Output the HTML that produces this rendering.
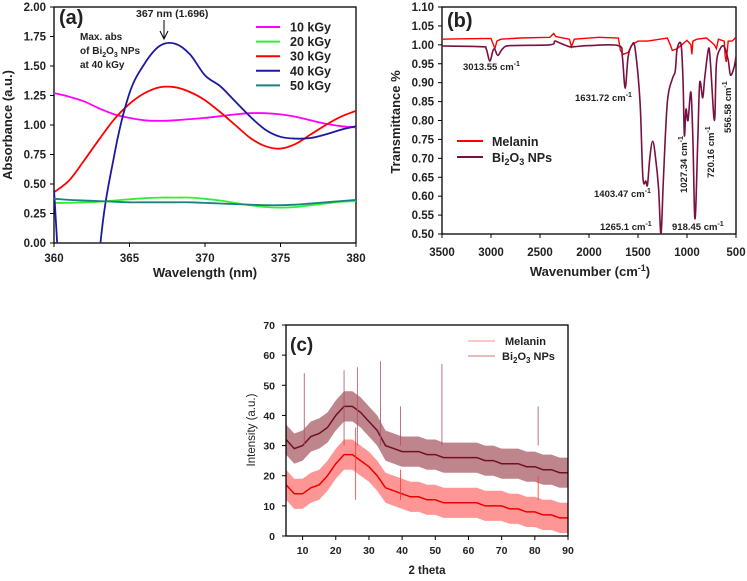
<!DOCTYPE html>
<html><head><meta charset="utf-8"><style>
body{margin:0;background:#fff;font-family:"Liberation Sans",sans-serif;}
svg text{font-family:"Liberation Sans",sans-serif;font-weight:bold;fill:#222;}
</style></head><body>
<svg id="s" width="747" height="576" viewBox="0 0 747 576">
<defs>
<clipPath id="ca"><rect x="54" y="7" width="302" height="236"/></clipPath>
<clipPath id="cb"><rect x="442" y="7" width="294" height="227"/></clipPath>
<clipPath id="cc"><rect x="286" y="325" width="282" height="211"/></clipPath>
</defs>
</svg>
<script>
// Panel (a) data
const aX=[360,361,362,363,364,365,366,367,368,369,370,371,372,373,374,375,376,377,378,379,380];
const a10=[1.27,1.24,1.20,1.14,1.09,1.06,1.04,1.035,1.04,1.05,1.06,1.075,1.09,1.10,1.10,1.09,1.07,1.04,1.01,0.99,0.98];
const a20=[0.34,0.34,0.345,0.35,0.36,0.37,0.38,0.385,0.385,0.385,0.375,0.36,0.34,0.32,0.305,0.30,0.305,0.32,0.335,0.35,0.355];
const a30=[0.43,0.53,0.70,0.88,1.05,1.18,1.27,1.32,1.32,1.28,1.21,1.11,1.00,0.89,0.82,0.80,0.84,0.92,1.00,1.07,1.12];
const a40=[0.45,-1.5,-2.0,-0.1,0.75,1.27,1.52,1.67,1.69,1.60,1.42,1.33,1.20,1.07,0.96,0.90,0.885,0.89,0.92,0.96,0.99];
const a50=[0.375,0.365,0.36,0.355,0.35,0.345,0.345,0.345,0.345,0.345,0.34,0.335,0.33,0.325,0.32,0.32,0.325,0.335,0.345,0.355,0.365];
const aYTicks=["0.00","0.25","0.50","0.75","1.00","1.25","1.50","1.75","2.00"];
const aXTicks=[360,365,370,375,380];
// Panel (b) data
const bBiX=[3500,3100,3050,3013,2980,2960,2930,2880,2800,2400,2350,2300,2200,2150,2000,1700,1660,1631,1600,1560,1530,1480,1450,1420,1403,1380,1350,1320,1290,1265,1240,1200,1150,1120,1100,1060,1040,1027,1010,990,960,940,918,890,870,840,820,780,760,720,700,660,620,580,556,520,500];
const bBiY=[0.997,0.995,0.99,0.957,0.985,0.988,0.972,0.99,0.998,1.0,1.01,1.005,0.995,0.995,0.998,0.998,0.97,0.885,0.97,1.0,0.99,0.85,0.65,0.64,0.63,0.70,0.745,0.70,0.62,0.50,0.65,0.85,0.91,0.93,0.99,1.0,0.90,0.76,0.83,0.80,0.875,0.75,0.54,0.75,0.90,0.86,0.91,0.99,0.95,0.80,0.95,0.99,0.995,0.96,0.92,0.94,0.97];
const bMelX=[3500,3300,3000,2960,2940,2900,2700,2400,2360,2340,2300,2200,2180,2150,1900,1700,1680,1650,1600,1560,1500,1400,1200,1170,1150,1100,1000,960,950,940,900,800,720,700,680,620,610,600,580,540,500];
const bMelY=[1.015,1.016,1.017,0.99,1.01,1.015,1.018,1.02,1.03,1.022,1.02,1.015,0.995,1.015,1.02,1.018,0.985,0.975,0.98,1.0,1.01,1.01,1.018,1.0,0.985,0.99,1.012,1.0,0.975,1.01,1.015,1.018,1.0,0.99,1.015,1.01,0.97,0.955,1.01,1.01,1.02];
const bYTicks=["0.50","0.55","0.60","0.65","0.70","0.75","0.80","0.85","0.90","0.95","1.00","1.05","1.10"];
const bXTicks=[3500,3000,2500,2000,1500,1000,500];
// Panel (c) data
const cX=[5,7.5,10,12.5,15,17.5,20,22.5,25,27.5,30,32.5,35,37.5,40,42.5,45,47.5,50,52.5,55,57.5,60,62.5,65,67.5,70,72.5,75,77.5,80,82.5,85,87.5,90];
const cBi=[32,29,30,33,34,36,40,43,43,41,38,35,30,29,28,28,28,27,27,26,26,26,26,26,25,25,24,24,24,23,23,22,22,21,21];
const cMel=[17,14,14,16,17,20,24,27,27,25,23,20,16,15,14,13,13,12,12,11,11,11,11,11,10,10,10,9,9,8,8,7,7,6,6];
const cBiSpikeX=[10.5,22.5,26.5,33.5,39.5,52,81];
const cBiSpikeY=[54,55,56,58,43,57,43];
const cMelSpikeX=[26,39.5,81];
const cMelSpikeY=[36,22,20];
const cYTicks=[0,10,20,30,40,50,60,70];
const cXTicks=[10,20,30,40,50,60,70,80,90];

const S=document.getElementById('s');const NS='http://www.w3.org/2000/svg';
function el(t,a,txt){const e=document.createElementNS(NS,t);for(const k in a)e.setAttribute(k,a[k]);if(txt!==undefined)e.textContent=txt;S.appendChild(e);return e;}
function lin(d0,d1,r0,r1){return v=>r0+(v-d0)*(r1-r0)/(d1-d0);}
function smooth(pts){let d='M'+pts[0][0].toFixed(1)+','+pts[0][1].toFixed(1);for(let i=0;i<pts.length-1;i++){const p0=pts[i-1]||pts[i],p1=pts[i],p2=pts[i+1],p3=pts[i+2]||p2;d+='C'+(p1[0]+(p2[0]-p0[0])/6).toFixed(1)+','+(p1[1]+(p2[1]-p0[1])/6).toFixed(1)+' '+(p2[0]-(p3[0]-p1[0])/6).toFixed(1)+','+(p2[1]-(p3[1]-p1[1])/6).toFixed(1)+' '+p2[0].toFixed(1)+','+p2[1].toFixed(1);}return d;}
function poly(pts){return 'M'+pts.map(p=>p[0].toFixed(1)+','+p[1].toFixed(1)).join('L');}

// ---- Panel (a)
const ax=lin(360,380,54,356), ay=lin(0,2,243,7);
let e;
e=el('rect',{x:54,y:7,width:302,height:236,fill:'none',stroke:'#000','stroke-width':1.3});

aYTicks.forEach(t=>{const y=ay(+t);el('line',{x1:50,x2:54,y1:y,y2:y,stroke:'#000'});e=el('text',{x:46,y:y+4,'text-anchor':'end','font-size':11.5},t);});
aXTicks.forEach(t=>{const x=ax(t);el('line',{x1:x,x2:x,y1:243,y2:247,stroke:'#000'});e=el('text',{x:x,y:262,'text-anchor':'middle','font-size':11.5},t);});
e=el('text',{x:205,y:277,'text-anchor':'middle','font-size':13},'Wavelength (nm)');
e=el('text',{x:12,y:125,'text-anchor':'middle','font-size':13,transform:'rotate(-90 12 125)'},'Absorbance (a.u.)');
const aSeries=[[a10,'#f0f','10 kGy'],[a20,'#3e3','20 kGy'],[a30,'#f00','30 kGy'],[a40,'#1a1aa0','40 kGy'],[a50,'#1a8080','50 kGy']];
aSeries.forEach((s,i)=>{e=el('path',{d:smooth(aX.map((x,j)=>[ax(x),ay(s[0][j])])),fill:'none',stroke:s[1],'stroke-width':1.8,'clip-path':'url(#ca)'});

const ly=27+i*14.6;el('line',{x1:256,x2:280,y1:ly,y2:ly,stroke:s[1],'stroke-width':2});
e=el('text',{x:290,y:ly+4.5,'font-size':12.5},s[2]);});
e=el('text',{x:59,y:24,'font-size':20},'(a)');
el('text',{x:136,y:17,'font-size':10.5},'367 nm (1.696)');
el('line',{x1:164,x2:164,y1:20,y2:38,stroke:'#000'});el('path',{d:'M160,31 L164,39 L168,31',fill:'none',stroke:'#000'});
el('text',{x:80,y:40,'font-size':10},'Max. abs');
const t2=el('text',{x:80,y:54,'font-size':10});t2.innerHTML='of Bi<tspan font-size="7" dy="3">2</tspan><tspan dy="-3">O</tspan><tspan font-size="7" dy="3">3</tspan><tspan dy="-3"> NPs</tspan>';
el('text',{x:80,y:68,'font-size':10},'at 40 kGy');

// ---- Panel (b)
const bx=lin(3500,500,442,736), by=lin(0.5,1.1,234,7);
e=el('rect',{x:442,y:7,width:294,height:227,fill:'none',stroke:'#000','stroke-width':1.3});

bYTicks.forEach(t=>{const y=by(+t);el('line',{x1:438,x2:442,y1:y,y2:y,stroke:'#000'});e=el('text',{x:434,y:y+4,'text-anchor':'end','font-size':11.5},t);});
bXTicks.forEach(t=>{const x=bx(t);el('line',{x1:x,x2:x,y1:234,y2:238,stroke:'#000'});e=el('text',{x:x,y:256,'text-anchor':'middle','font-size':11.5},t);});
const bt=el('text',{x:590,y:276,'text-anchor':'middle','font-size':13});bt.innerHTML='Wavenumber (cm<tspan font-size="9" dy="-5">-1</tspan><tspan dy="5">)</tspan>';
e=el('text',{x:400,y:122,'text-anchor':'middle','font-size':13,transform:'rotate(-90 400 122)'},'Transmittance %');
e=el('path',{d:poly(bMelX.map((x,j)=>[bx(x),by(bMelY[j])])),fill:'none',stroke:'#f00','stroke-width':1.4,'clip-path':'url(#cb)'});
e=el('path',{d:smooth(bBiX.map((x,j)=>[bx(x),by(bBiY[j])])),fill:'none',stroke:'#7a1040','stroke-width':1.6,'clip-path':'url(#cb)'});
e=el('text',{x:447,y:27,'font-size':20},'(b)');
el('line',{x1:457,x2:483,y1:141,y2:141,stroke:'#f00','stroke-width':2});el('text',{x:492,y:146,'font-size':12.5},'Melanin');
el('line',{x1:457,x2:483,y1:157,y2:157,stroke:'#7a1040','stroke-width':2});
const lb=el('text',{x:492,y:162,'font-size':12.5});lb.innerHTML='Bi<tspan font-size="9" dy="3">2</tspan><tspan dy="-3">O</tspan><tspan font-size="9" dy="3">3</tspan><tspan dy="-3"> NPs</tspan>';
function ann(x,y,t,rot){const a=el('text',{x:x,y:y,'font-size':9.5,transform:rot?'rotate(-90 '+x+' '+y+')':''});a.innerHTML=t+' cm<tspan font-size="7" dy="-4">-1</tspan>';return a;}
ann(463,70,'3013.55');ann(575,101,'1631.72');ann(594,197,'1403.47');ann(600,230,'1265.1');ann(672,230,'918.45');
ann(687,193,'1027.34',1);ann(714,178,'720.16',1);ann(731,133,'556.58',1);

// ---- Panel (c)
const cx=lin(5,90,286,568), cy=lin(0,70,536,325);
function band(vals,hw){const up=cX.map((x,j)=>[cx(x),cy(vals[j]+hw)]),dn=cX.map((x,j)=>[cx(x),cy(vals[j]-hw)]).reverse();return poly(up.concat(dn))+'Z';}
e=el('path',{d:band(cMel,5),fill:'#ff4040','fill-opacity':0.55,'clip-path':'url(#cc)'});
e=el('path',{d:poly(cX.map((x,j)=>[cx(x),cy(cMel[j])])),fill:'none',stroke:'#e00','stroke-width':1.5,'clip-path':'url(#cc)'});
e=el('path',{d:band(cBi,5),fill:'#8a2030','fill-opacity':0.55,'clip-path':'url(#cc)'});
e=el('path',{d:poly(cX.map((x,j)=>[cx(x),cy(cBi[j])])),fill:'none',stroke:'#701020','stroke-width':1.5,'clip-path':'url(#cc)'});
cBiSpikeX.forEach((x,j)=>{e=el('line',{x1:cx(x),x2:cx(x),y1:cy(30),y2:cy(cBiSpikeY[j]),stroke:'#b05060','stroke-width':0.8});});
cMelSpikeX.forEach((x,j)=>{e=el('line',{x1:cx(x),x2:cx(x),y1:cy(12),y2:cy(cMelSpikeY[j]),stroke:'#f33','stroke-width':0.8});});
e=el('rect',{x:286,y:325,width:282,height:211,fill:'none',stroke:'#000','stroke-width':1.3});
cYTicks.forEach(t=>{const y=cy(t);el('line',{x1:282,x2:286,y1:y,y2:y,stroke:'#000'});e=el('text',{x:275,y:y+4,'text-anchor':'end','font-size':10.5},t);});
cXTicks.forEach(t=>{const x=cx(t);el('line',{x1:x,x2:x,y1:536,y2:540,stroke:'#000'});e=el('text',{x:x,y:554,'text-anchor':'middle','font-size':10.5},t);});
e=el('text',{x:427,y:574,'text-anchor':'middle','font-size':11.5},'2 theta');
e=el('text',{x:255,y:430,'text-anchor':'middle','font-size':11.5,transform:'rotate(-90 255 430)'},'Intensity (a.u.)');e.style.fontWeight='normal';
e=el('text',{x:290,y:351,'font-size':19},'(c)');
el('line',{x1:468,x2:495,y1:341,y2:341,stroke:'#f88','stroke-width':1});el('text',{x:505,y:345,'font-size':11},'Melanin');
el('line',{x1:468,x2:495,y1:356,y2:356,stroke:'#c77','stroke-width':1});
const lc=el('text',{x:502,y:360,'font-size':11});lc.innerHTML='Bi<tspan font-size="8" dy="3">2</tspan><tspan dy="-3">O</tspan><tspan font-size="8" dy="3">3</tspan><tspan dy="-3"> NPs</tspan>';
</script>
</body></html>
